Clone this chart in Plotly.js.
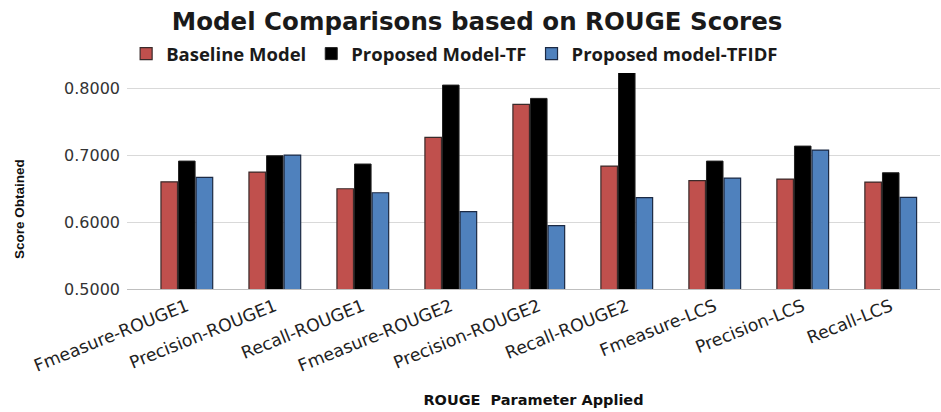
<!DOCTYPE html>
<html>
<head>
<meta charset="utf-8">
<script src="https://cdn.plot.ly/plotly-3.0.1.min.js"></script>
<style>html,body{margin:0;padding:0;background:#fff;}#chart{width:941px;height:412px;}</style>
</head>
<body>
<div id="chart"></div>
<script>
var categories = ["Fmeasure-ROUGE1","Precision-ROUGE1","Recall-ROUGE1","Fmeasure-ROUGE2","Precision-ROUGE2","Recall-ROUGE2","Fmeasure-LCS","Precision-LCS","Recall-LCS"];
var baselineModel = [0.6600,0.6746,0.6497,0.7264,0.7756,0.6836,0.6617,0.6642,0.6597];
var proposedTF    = [0.6910,0.6990,0.6866,0.8045,0.7846,0.8243,0.6910,0.7134,0.6736];
var proposedTFIDF = [0.6667,0.7000,0.6437,0.6154,0.5945,0.6363,0.6657,0.7075,0.6368];
var seriesNames = ["Baseline Model","Proposed Model-TF","Proposed model-TFIDF"];

var traces = [
  {type:'bar', name:seriesNames[0], x:categories, y:baselineModel,
   marker:{color:'#C0504D', line:{color:'#3a2a2a', width:1.2}}},
  {type:'bar', name:seriesNames[1], x:categories, y:proposedTF,
   marker:{color:'#000000', line:{color:'#222', width:1}}},
  {type:'bar', name:seriesNames[2], x:categories, y:proposedTFIDF,
   marker:{color:'#4F81BD', line:{color:'#1c2a44', width:1.2}}}
];

var layout = {
  width:941, height:412,
  margin:{l:127, r:1, t:68, b:123},
  paper_bgcolor:'#fff', plot_bgcolor:'#fff',
  barmode:'group', bargap:0.4, bargroupgap:0.06,
  showlegend:true,
  title:{text:'Model Comparisons based on ROUGE Scores', x:0.507, xanchor:'center', y:0.949, yanchor:'middle',
         font:{family:'"DejaVu Sans", sans-serif', size:24.5, color:'#1a1a1a', weight:'bold'}},
  legend:{orientation:'h', x:0.403, xanchor:'center', y:1.063, yanchor:'middle',
          font:{family:'"Open Sans", sans-serif', size:18.5, color:'#1a1a1a', weight:'bold'}},
  xaxis:{type:'category', range:[-0.68, 8.56], tickangle:-22, showgrid:false,
         showline:true, linecolor:'#bfbfbf', linewidth:1, ticks:'',
         tickfont:{family:'"DejaVu Sans", sans-serif', size:17.3, color:'#222'},
         title:{text:'ROUGE  Parameter Applied', standoff:20,
                font:{family:'"DejaVu Sans", sans-serif', size:14.5, color:'#111', weight:'bold'}}},
  yaxis:{range:[0.5, 0.83], dtick:0.1, tick0:0.5, tickformat:'.4f', showgrid:true, gridcolor:'#d9d9d9',
         zeroline:false, showline:false, ticks:'', ticklen:0, ticklabelstandoff:6,
         tickfont:{family:'"DejaVu Sans", sans-serif', size:16, color:'#333'}},
  annotations:[{text:'Score Obtained', textangle:-90, xref:'paper', yref:'paper', showarrow:false,
                x:-0.132, y:0.36, xanchor:'center', yanchor:'middle',
                font:{family:'"Liberation Sans", Arial, sans-serif', size:13.5, color:'#111', weight:'bold'}}]
};

Plotly.newPlot('chart', traces, layout, {displayModeBar:false, responsive:false});
</script>
</body>
</html>
